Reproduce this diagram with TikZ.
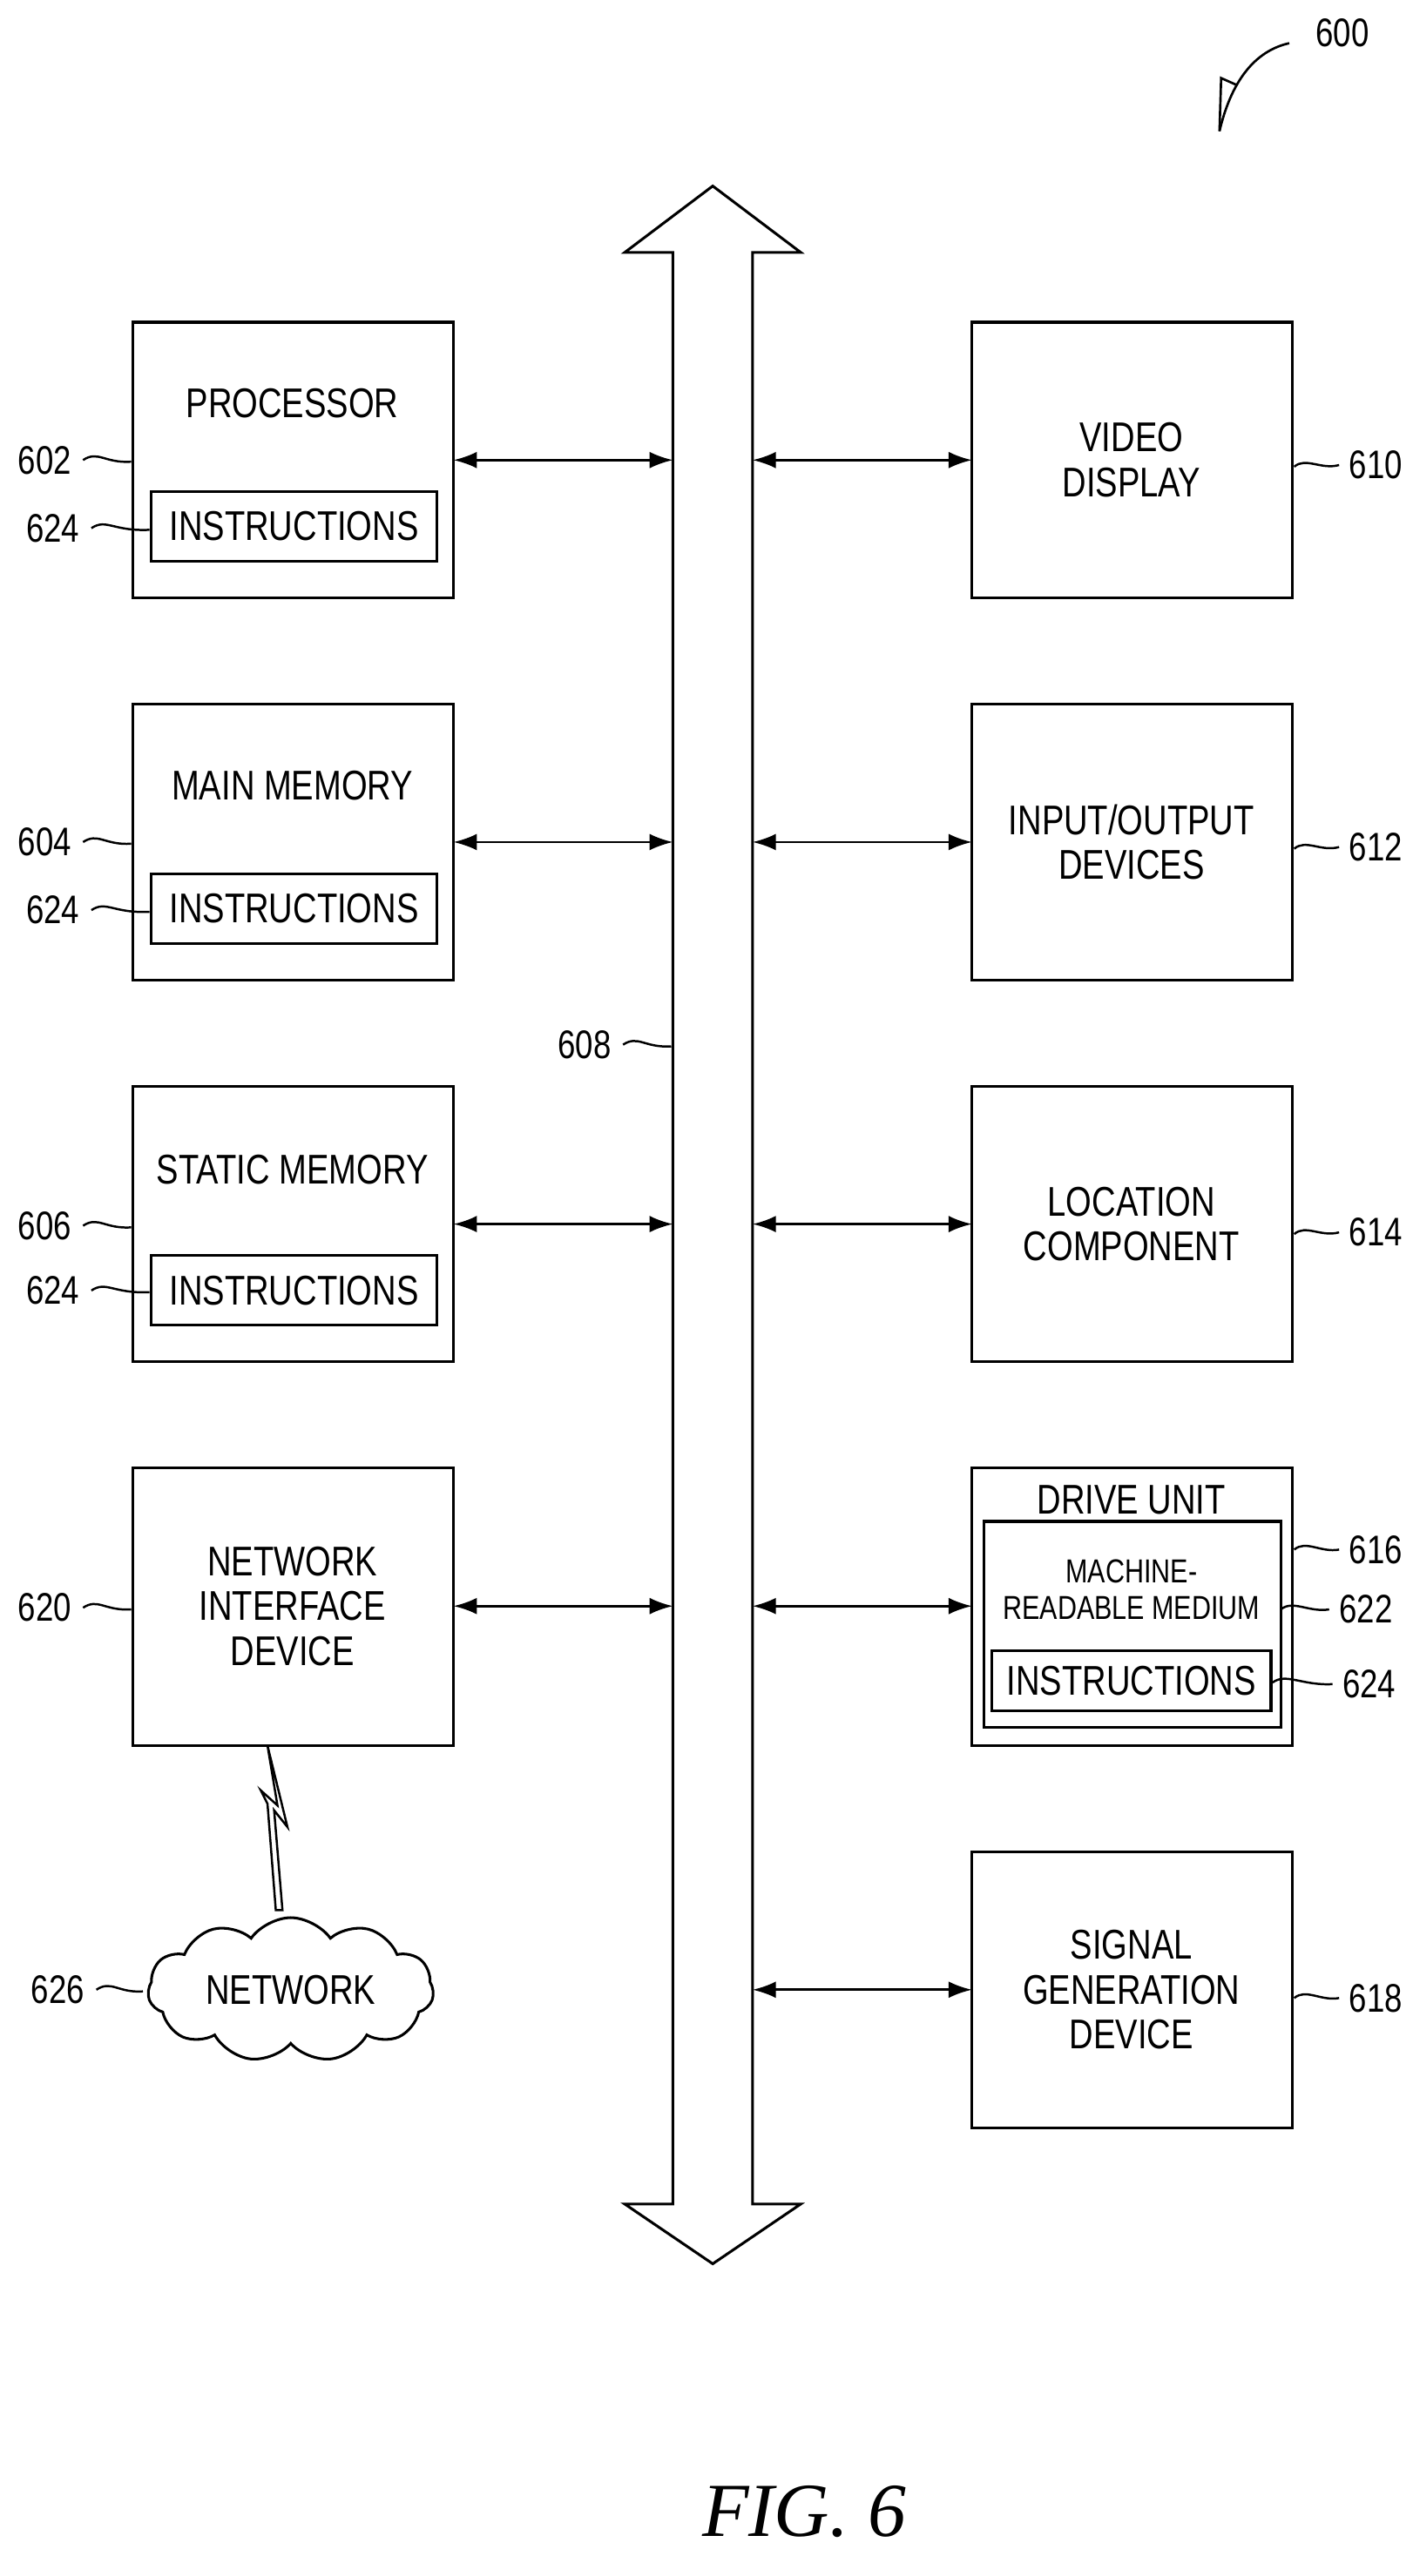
\documentclass[tikz,border=0pt]{standalone}
\usepackage{fontspec}
\setmainfont[FakeStretch=0.8]{Liberation Sans}
\newfontfamily\figfont{Liberation Serif}
\usetikzlibrary{arrows.meta,shapes.symbols}
\begin{document}
\begin{tikzpicture}[x=1pt,y=-1pt,line width=1.6pt,
  every node/.style={font=\fontsize{25}{30}\selectfont,align=center},
  box/.style={draw,line width=1.6pt},
  conn/.style={{Latex[length=14pt,width=10pt]}-{Latex[length=14pt,width=10pt]},line width=1.4pt},
  lbl/.style={font=\fontsize{24}{28}\selectfont},
  lead/.style={line width=1.3pt}]
\useasboundingbox (0,0) rectangle (850,1551);
% bus
\draw[line width=1.6pt] (405,152) -- (376,152) -- (429,112) -- (482,152) -- (453,152) -- (453,1327) -- (482,1327) -- (429,1363) -- (376,1327) -- (405,1327) -- cycle;
\coordinate (busL1) at (405,277); \coordinate (busL2) at (405,507); \coordinate (busL3) at (405,737); \coordinate (busL4) at (405,967);
\coordinate (busR1) at (453,277); \coordinate (busR2) at (453,507); \coordinate (busR3) at (453,737); \coordinate (busR4) at (453,967); \coordinate (busR5) at (453,1198);
% left boxes
\draw[box] (80,194) rectangle (273,360); \node at (176,243) {PROCESSOR};
\draw[box] (91,296) rectangle (263,338); \node (i1) at (177,317) {INSTRUCTIONS};
\draw[box] (80,424) rectangle (273,590); \node at (176,473) {MAIN MEMORY};
\draw[box] (91,526) rectangle (263,568); \node (i2) at (177,547) {INSTRUCTIONS};
\draw[box] (80,654) rectangle (273,820); \node at (176,704) {STATIC MEMORY};
\draw[box] (91,756) rectangle (263,798); \node (i3) at (177,777) {INSTRUCTIONS};
\draw[box] (80,884) rectangle (273,1051); \node at (176,967) {NETWORK\\[-3pt]INTERFACE\\[-3pt]DEVICE};
\coordinate (L1) at (273,277); \coordinate (L2) at (273,507); \coordinate (L3) at (273,737); \coordinate (L4) at (273,967);
% right boxes
\draw[box] (585,194) rectangle (778,360); \node at (681,277) {VIDEO\\[-3pt]DISPLAY};
\draw[box] (585,424) rectangle (778,590); \node at (681,507) {INPUT/OUTPUT\\[-3pt]DEVICES};
\draw[box] (585,654) rectangle (778,820); \node at (681,737) {LOCATION\\[-3pt]COMPONENT};
\draw[box] (585,884) rectangle (778,1051); \node at (681,903) {DRIVE UNIT};
\draw[box] (592,916) rectangle (771,1040);
\node[font=\fontsize{20}{24}\selectfont] at (681,957) {MACHINE-\\[-2pt]READABLE MEDIUM};
\draw[box] (597,994) rectangle (765,1030); \node at (681,1012) {INSTRUCTIONS};
\draw[box] (585,1115) rectangle (778,1281); \node at (681,1198) {SIGNAL\\[-3pt]GENERATION\\[-3pt]DEVICE};
\coordinate (R1) at (585,277); \coordinate (R2) at (585,507); \coordinate (R3) at (585,737); \coordinate (R4) at (585,967); \coordinate (R5) at (585,1198);
% connectors
\foreach \i in {1,2,3,4} {\draw[conn] (L\i) -- (busL\i); \draw[conn] (busR\i) -- (R\i);}
\draw[conn] (busR5) -- (R5);
% network
\node[cloud,draw,line width=1.6pt,cloud puffs=11,cloud puff arc=110,aspect=2.3,minimum width=172pt,minimum height=78pt] (net) at (175,1198) {NETWORK};
\draw[line width=1.3pt,line join=miter] (161,1051) -- (173,1100) -- (165,1090) -- (170,1150) -- (166,1150) -- (161,1086) -- (157,1078) -- (167,1087) -- cycle;
% labels
\newcommand{\lead}[4]{\node[lbl,anchor=east] at (#1,#2) {#3}; \draw[lead] (#1+3,#2) .. controls (#1+12,#2-6) and (#1+16,#2+2) .. (#4,#2+1);}
\lead{47}{277}{602}{79}
\lead{52}{318}{624}{90}
\lead{47}{507}{604}{79}
\lead{52}{548}{624}{90}
\lead{47}{738}{606}{79}
\lead{52}{777}{624}{90}
\lead{47}{968}{620}{79}
\lead{55}{1198}{626}{86}
\lead{372}{629}{608}{404}
\node[lbl,anchor=west] at (808,280) {610}; \draw[lead] (779,281) .. controls (786,275) and (795,283) .. (806,280);
\node[lbl,anchor=west] at (808,510) {612}; \draw[lead] (779,511) .. controls (786,505) and (795,513) .. (806,510);
\node[lbl,anchor=west] at (808,742) {614}; \draw[lead] (779,743) .. controls (786,737) and (795,745) .. (806,742);
\node[lbl,anchor=west] at (808,933) {616}; \draw[lead] (779,933) .. controls (786,927) and (795,935) .. (806,933);
\node[lbl,anchor=west] at (802,969) {622}; \draw[lead] (771,969) .. controls (778,963) and (788,971) .. (800,969);
\node[lbl,anchor=west] at (804,1014) {624}; \draw[lead] (766,1013) .. controls (774,1007) and (784,1015) .. (802,1014);
\node[lbl,anchor=west] at (808,1203) {618}; \draw[lead] (779,1203) .. controls (786,1197) and (795,1205) .. (806,1203);
% 600
\node[lbl] (n600) at (808,20) {600};
\draw[line width=1.4pt] (776,26) .. controls (758,30) and (742,45) .. (734,79);
\draw[line width=1.4pt,line join=miter] (734,79) -- (735,47) -- (744,51);
\node[font=\figfont\itshape\fontsize{46}{50}\selectfont] at (484,1512) {FIG. 6};
\end{tikzpicture}
\end{document}
